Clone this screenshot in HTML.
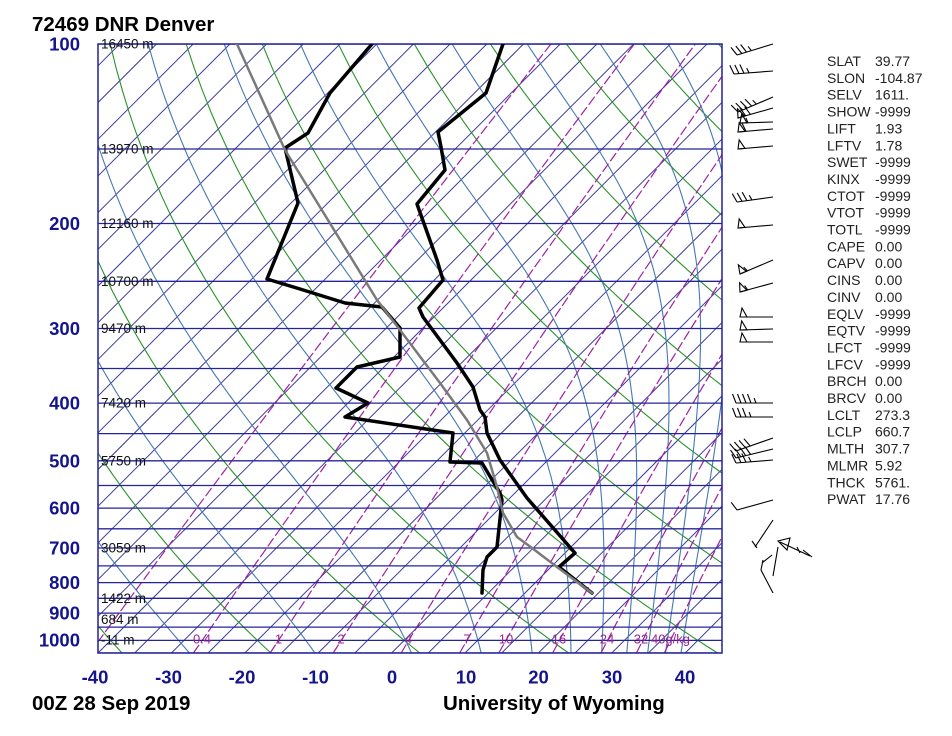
<!DOCTYPE html>
<html><head><meta charset="utf-8"><style>
html,body{margin:0;padding:0;background:#fff;}
svg{display:block;font-family:"Liberation Sans",Arial,sans-serif;}
</style></head><body>
<svg id="sk" xmlns="http://www.w3.org/2000/svg" width="952" height="736" viewBox="0 0 952 736">
<defs><clipPath id="c"><rect x="98" y="44" width="624" height="609"/></clipPath></defs>
<rect x="0" y="0" width="952" height="736" fill="#fff"/>
<g id="grid" clip-path="url(#c)"></g>
<rect x="98" y="44" width="624" height="609" fill="none" stroke="#22229a" stroke-width="1.5"/>
<g clip-path="url(#c)" fill="none" stroke-linejoin="round" stroke-linecap="round">
<polyline stroke="#000" stroke-width="3.5" points="503,44 486,93 438,132 441,147 445,170 417,204 437,260 443,280 419,308 423,317 457,363 473,387 480,410 485,417 487,433 500,460 527,498 575,553 559,567 592,593"/>
<polyline stroke="#000" stroke-width="3.5" points="372,44 330,93 308,133 285,148 298,203 267,279 300,289 345,303 382,307 400,328 400,357 357,367 336,388 368,403 345,417 453,433 450,462 482,463 500,493 502,500 497,547 487,557 483,570 482,593"/>
<polyline stroke="#7a7a7a" stroke-width="2.5" points="237,44 285,150 377,300 400,330 440,383 467,420 487,453 497,487 503,513 517,537 532,548 557,567 592,593"/>
</g>
<g id="barbs" stroke="#000" stroke-width="1.1" fill="none">
<polyline points="773,520 755,547"/>
<line x1="752" y1="541" x2="757" y2="548"/>
<polygon points="778,541 790,538 787,550"/>
<polyline points="780,542 810,556"/>
<polyline points="797,547 800,553"/>
<polyline points="803,550 812,557"/>
<polyline points="778,547 773,576"/>
<polyline points="763,560 761,570 773,593"/>
<polyline points="762,563 772,555"/>
</g>
<text x="32" y="31" font-size="20.5" font-weight="bold" fill="#000">72469 DNR Denver</text>
<text x="32" y="710" font-size="20.5" font-weight="bold" fill="#000">00Z 28 Sep 2019</text>
<text x="443" y="710" font-size="20.5" font-weight="bold" fill="#000">University of Wyoming</text>
<g font-size="18.5" font-weight="bold" fill="#14148c" text-anchor="end">
<text x="80" y="50.6">100</text>
<text x="80" y="230">200</text>
<text x="80" y="335">300</text>
<text x="80" y="409.6">400</text>
<text x="80" y="467.3">500</text>
<text x="80" y="514.6">600</text>
<text x="80" y="554.5">700</text>
<text x="80" y="589">800</text>
<text x="80" y="619.6">900</text>
<text x="80" y="646.5">1000</text>
</g>
<g font-size="18.5" font-weight="bold" fill="#14148c" text-anchor="middle">
<text x="95" y="683.5">-40</text>
<text x="168.5" y="683.5">-30</text>
<text x="242" y="683.5">-20</text>
<text x="315.5" y="683.5">-10</text>
<text x="392" y="683.5">0</text>
<text x="466" y="683.5">10</text>
<text x="538.5" y="683.5">20</text>
<text x="612" y="683.5">30</text>
<text x="685" y="683.5">40</text>
</g>
<g font-size="13.5" fill="#111">
<text x="101" y="48.5">16450 m</text>
<text x="101" y="153.5">13970 m</text>
<text x="101" y="228">12160 m</text>
<text x="101" y="285.8">10700 m</text>
<text x="101" y="333">9470 m</text>
<text x="101" y="407.6">7420 m</text>
<text x="101" y="465.3">5750 m</text>
<text x="101" y="552.5">3059 m</text>
<text x="101" y="602.8">1422 m</text>
<text x="101" y="624">684 m</text>
<text x="101" y="644.5">-11 m</text>
</g>
<g font-size="13" fill="#9a2296" text-anchor="middle">
<text x="202" y="643.5">0.4</text>
<text x="278.5" y="643.5">1</text>
<text x="341" y="643.5">2</text>
<text x="408.5" y="643.5">4</text>
<text x="467" y="643.5">7</text>
<text x="506" y="643.5">10</text>
<text x="559" y="643.5">16</text>
<text x="607" y="643.5">24</text>
<text x="641" y="643.5">32</text>
<text x="670.5" y="643.5">40g/kg</text>
</g>
<g font-size="14" fill="#222">
<text x="827" y="66">SLAT</text><text x="875" y="66">39.77</text>
<text x="827" y="82.85">SLON</text><text x="875" y="82.85">-104.87</text>
<text x="827" y="99.7">SELV</text><text x="875" y="99.7">1611.</text>
<text x="827" y="116.55">SHOW</text><text x="875" y="116.55">-9999</text>
<text x="827" y="133.4">LIFT</text><text x="875" y="133.4">1.93</text>
<text x="827" y="150.25">LFTV</text><text x="875" y="150.25">1.78</text>
<text x="827" y="167.1">SWET</text><text x="875" y="167.1">-9999</text>
<text x="827" y="183.95">KINX</text><text x="875" y="183.95">-9999</text>
<text x="827" y="200.8">CTOT</text><text x="875" y="200.8">-9999</text>
<text x="827" y="217.65">VTOT</text><text x="875" y="217.65">-9999</text>
<text x="827" y="234.5">TOTL</text><text x="875" y="234.5">-9999</text>
<text x="827" y="251.35">CAPE</text><text x="875" y="251.35">0.00</text>
<text x="827" y="268.2">CAPV</text><text x="875" y="268.2">0.00</text>
<text x="827" y="285.05">CINS</text><text x="875" y="285.05">0.00</text>
<text x="827" y="301.9">CINV</text><text x="875" y="301.9">0.00</text>
<text x="827" y="318.75">EQLV</text><text x="875" y="318.75">-9999</text>
<text x="827" y="335.6">EQTV</text><text x="875" y="335.6">-9999</text>
<text x="827" y="352.45">LFCT</text><text x="875" y="352.45">-9999</text>
<text x="827" y="369.3">LFCV</text><text x="875" y="369.3">-9999</text>
<text x="827" y="386.15">BRCH</text><text x="875" y="386.15">0.00</text>
<text x="827" y="403">BRCV</text><text x="875" y="403">0.00</text>
<text x="827" y="419.85">LCLT</text><text x="875" y="419.85">273.3</text>
<text x="827" y="436.7">LCLP</text><text x="875" y="436.7">660.7</text>
<text x="827" y="453.55">MLTH</text><text x="875" y="453.55">307.7</text>
<text x="827" y="470.4">MLMR</text><text x="875" y="470.4">5.92</text>
<text x="827" y="487.25">THCK</text><text x="875" y="487.25">5761.</text>
<text x="827" y="504.1">PWAT</text><text x="875" y="504.1">17.76</text>
</g>
</svg>
<script>
(function(){
var NS='http://www.w3.org/2000/svg';
var g=document.getElementById('grid');
function Y(p){return 44+259*Math.log(p/100);}
function X(T,y){return 98+7.34*(T+40)+(653-y);}
function pl(pts,color,w,dash){
  var e=document.createElementNS(NS,'polyline');
  e.setAttribute('points',pts.map(function(a){return a[0].toFixed(1)+','+a[1].toFixed(1);}).join(' '));
  e.setAttribute('fill','none');e.setAttribute('stroke',color);e.setAttribute('stroke-width',w);
  if(dash)e.setAttribute('stroke-dasharray',dash);
  g.appendChild(e);
}
var p,T,i,k,pts;
for(T=-125;T<=45;T+=5){pl([[X(T,653),653],[X(T,44),44]],'#3c3c9e',1);}
for(k=0;k<12;k++){
  var th=233.15+20*k;pts=[];
  for(p=1050;p>=100;p-=10){var y=Y(p);T=th*Math.pow(p/1000,0.2857)-273.15;pts.push([X(T,y),y]);}
  pl(pts,'#2a922a',1.1);
}
function es(T){return 6.112*Math.exp(17.67*(T-273.15)/(T-29.65));}
function the(T,p){var e=es(T);if(e>p*0.6)return 1e9;var w=0.622*e/(p-e);return T*Math.pow(1000/p,0.2857)*Math.exp(2.5e6*w/(1004*T));}
for(k=0;k<11;k++){
  var tg=243.15+20*k;pts=[];
  for(p=1050;p>=100;p-=5){
    var lo=150,hi=345;
    for(i=0;i<50;i++){var m=(lo+hi)/2;if(the(m,p)>tg)hi=m;else lo=m;}
    var y2=Y(p);pts.push([X((lo+hi)/2-273.15,y2),y2]);
  }
  pl(pts,'#4578b2',1.1);
}
var ws=[0.1,0.4,1,2,4,7,10,16,24,32,40];
for(k=0;k<ws.length;k++){
  var w=ws[k];pts=[];
  for(p=1050;p>=100;p-=10){
    var e=w*p/(622+w),l=Math.log(e/6.112),Td=243.5*l/(17.67-l),y3=Y(p);
    pts.push([X(Td,y3),y3]);
  }
  pl(pts,'#a020a0',1.2,'10,3');
}
for(p=100;p<=1050;p+=50){var y4=Y(p);pl([[98,y4],[722,y4]],'#24249a',1.3);}

var B=document.getElementById('barbs');
function ln(x1,y1,x2,y2){var e=document.createElementNS(NS,'line');e.setAttribute('x1',x1.toFixed(1));e.setAttribute('y1',y1.toFixed(1));e.setAttribute('x2',x2.toFixed(1));e.setAttribute('y2',y2.toFixed(1));B.appendChild(e);}
function poly(a){var e=document.createElementNS(NS,'polygon');e.setAttribute('points',a.map(function(q){return q[0].toFixed(1)+','+q[1].toFixed(1);}).join(' '));B.appendChild(e);}
function barb(sx,sy,ex,ey,nf,nb,nh){
  ln(sx,sy,ex,ey);
  var dx=ex-sx,dy=ey-sy,L=Math.sqrt(dx*dx+dy*dy),ux=dx/L,uy=dy/L;
  var nx=-uy,ny=ux;if(ny>0){nx=-nx;ny=-ny;}
  var tx=nx*9+ux*3.5,ty=ny*9+uy*3.5,d=0,j,bx,by;
  for(j=0;j<nf;j++){bx=ex-ux*d;by=ey-uy*d;
    var b2x=bx-ux*7,b2y=by-uy*7;
    poly([[bx,by],[bx-ux*2+nx*9,by-uy*2+ny*9],[b2x,b2y]]);d+=8;}
  for(j=0;j<nb;j++){bx=ex-ux*d;by=ey-uy*d;ln(bx,by,bx+tx,by+ty);d+=5;}
  for(j=0;j<nh;j++){bx=ex-ux*d;by=ey-uy*d;ln(bx,by,bx+tx*0.55,by+ty*0.55);d+=5;}
}
var bs=[
[773,44,737,55,0,3,1],[773,71,734,74,0,3,1],[773,97,738,112,0,4,1],[773,108,738,118,1,2,0],
[773,122,740,123,1,0,1],[773,129,738,132,1,1,0],[773,146,738,149,1,0,0],[773,197,737,202,0,3,1],
[773,225,738,228,1,0,0],[773,260,740,274,1,0,1],[773,283,740,292,1,0,1],[773,317,740,317,1,0,0],
[773,329,740,330,1,0,0],[773,342,740,342,1,0,0],[773,403,736,403,0,4,1],[773,417,736,417,0,3,1],
[773,438,736,451,0,4,0],[773,449,736,458,0,4,0],[773,460,736,463,0,3,1],[773,500,737,510,0,1,0]];
for(k=0;k<bs.length;k++){var b=bs[k];barb(b[0],b[1],b[2],b[3],b[4],b[5],b[6]);}
})();
</script>
</body></html>
